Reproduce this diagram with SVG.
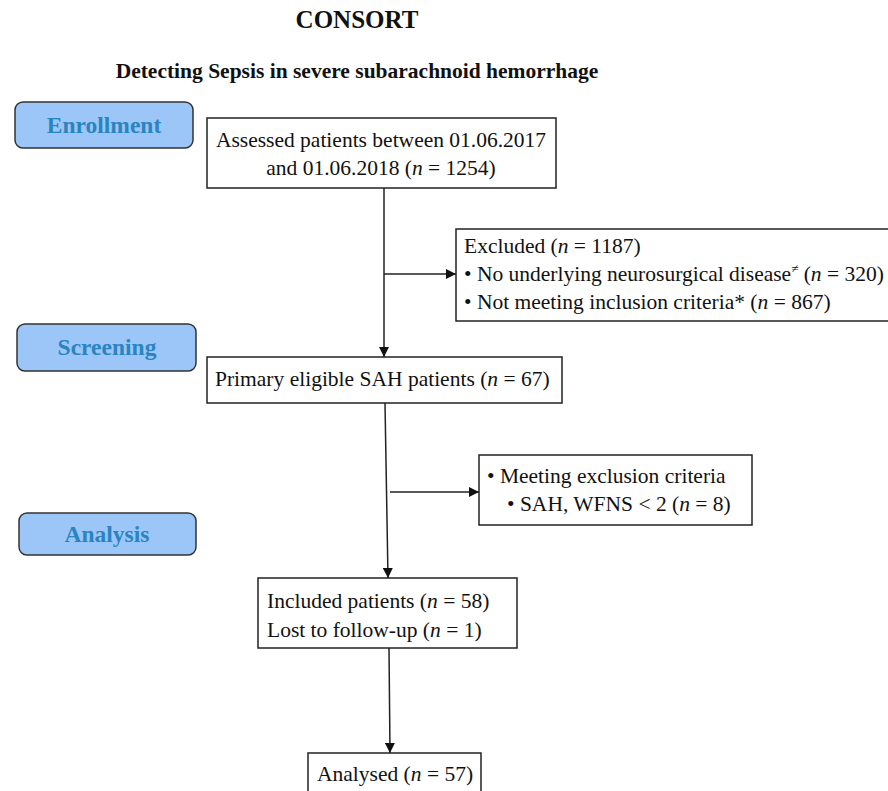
<svg xmlns="http://www.w3.org/2000/svg" width="888" height="791" viewBox="0 0 888 791">
<defs>
<marker id="ah" viewBox="0 0 10 10" refX="10" refY="5" markerWidth="10" markerHeight="10" markerUnits="userSpaceOnUse" orient="auto">
<path d="M0,0 L10,5 L0,10 z" fill="#111"/>
</marker>
<style>
.t{font-family:"Liberation Serif","Times New Roman",serif;fill:#111}
.b{font-size:21.5px}
.h{font-weight:bold}
.lab rect{fill:#9cc6f8;stroke:#333;stroke-width:1.5}
.lab text{font-family:"Liberation Serif","Times New Roman",serif;font-weight:bold;font-size:23.5px;fill:#2a84c0;text-anchor:middle}
.box{fill:#fff;stroke:#222;stroke-width:1.5}
.c{stroke:#222;stroke-width:1.5;fill:none}
</style>
</defs>
<rect width="888" height="791" fill="#fff"/>
<text class="t h" x="357" y="28" font-size="25" text-anchor="middle">CONSORT</text>
<text class="t h" x="357" y="78" font-size="21.5" text-anchor="middle">Detecting Sepsis in severe subarachnoid hemorrhage</text>

<g id="enrollment" class="lab"><rect x="15" y="102" width="178" height="46" rx="8"/><text x="104" y="133">Enrollment</text></g>
<g id="screening" class="lab"><rect x="17" y="324" width="179" height="47" rx="8"/><text x="107" y="355">Screening</text></g>
<g id="analysis" class="lab"><rect x="19" y="513" width="177" height="42" rx="8"/><text x="107" y="542">Analysis</text></g>

<g id="assessed"><rect class="box" x="207" y="118" width="349" height="70"/>
<text class="t b" x="381" y="147" text-anchor="middle">Assessed patients between 01.06.2017</text>
<text class="t b" x="381" y="175" text-anchor="middle">and 01.06.2018 (<tspan font-style="italic">n</tspan> = 1254)</text></g>

<g id="excluded"><rect class="box" x="456" y="229" width="440" height="92"/>
<text class="t b" x="464" y="253">Excluded (<tspan font-style="italic">n</tspan> = 1187)</text>
<text class="t b" x="464" y="281">• No underlying neurosurgical disease<tspan font-size="13" dy="-8">≠</tspan><tspan dy="8"> (</tspan><tspan font-style="italic">n</tspan> = 320)</text>
<text class="t b" x="464" y="309">• Not meeting inclusion criteria* (<tspan font-style="italic">n</tspan> = 867)</text></g>

<g id="primary"><rect class="box" x="207" y="357" width="355" height="46"/>
<text class="t b" x="215" y="386">Primary eligible SAH patients (<tspan font-style="italic">n</tspan> = 67)</text></g>

<g id="exclusion"><rect class="box" x="479" y="455" width="273" height="70"/>
<text class="t b" x="487" y="483">• Meeting exclusion criteria</text>
<text class="t b" x="507" y="511">• SAH, WFNS &lt; 2 (<tspan font-style="italic">n</tspan> = 8)</text></g>

<g id="included"><rect class="box" x="258" y="578" width="259" height="70"/>
<text class="t b" x="267" y="608">Included patients (<tspan font-style="italic">n</tspan> = 58)</text>
<text class="t b" x="267" y="637">Lost to follow-up (<tspan font-style="italic">n</tspan> = 1)</text></g>

<g id="analysed"><rect class="box" x="308" y="753" width="173" height="50"/>
<text class="t b" x="317" y="781">Analysed (<tspan font-style="italic">n</tspan> = 57)</text></g>

<g id="connectors">
<line class="c" x1="384" y1="188" x2="384" y2="357" marker-end="url(#ah)"/>
<line class="c" x1="384" y1="274" x2="456" y2="274" marker-end="url(#ah)"/>
<line class="c" x1="385" y1="403" x2="388" y2="578" marker-end="url(#ah)"/>
<line class="c" x1="390" y1="492" x2="479" y2="492" marker-end="url(#ah)"/>
<line class="c" x1="389" y1="648" x2="390" y2="753" marker-end="url(#ah)"/>
</g>
</svg>
